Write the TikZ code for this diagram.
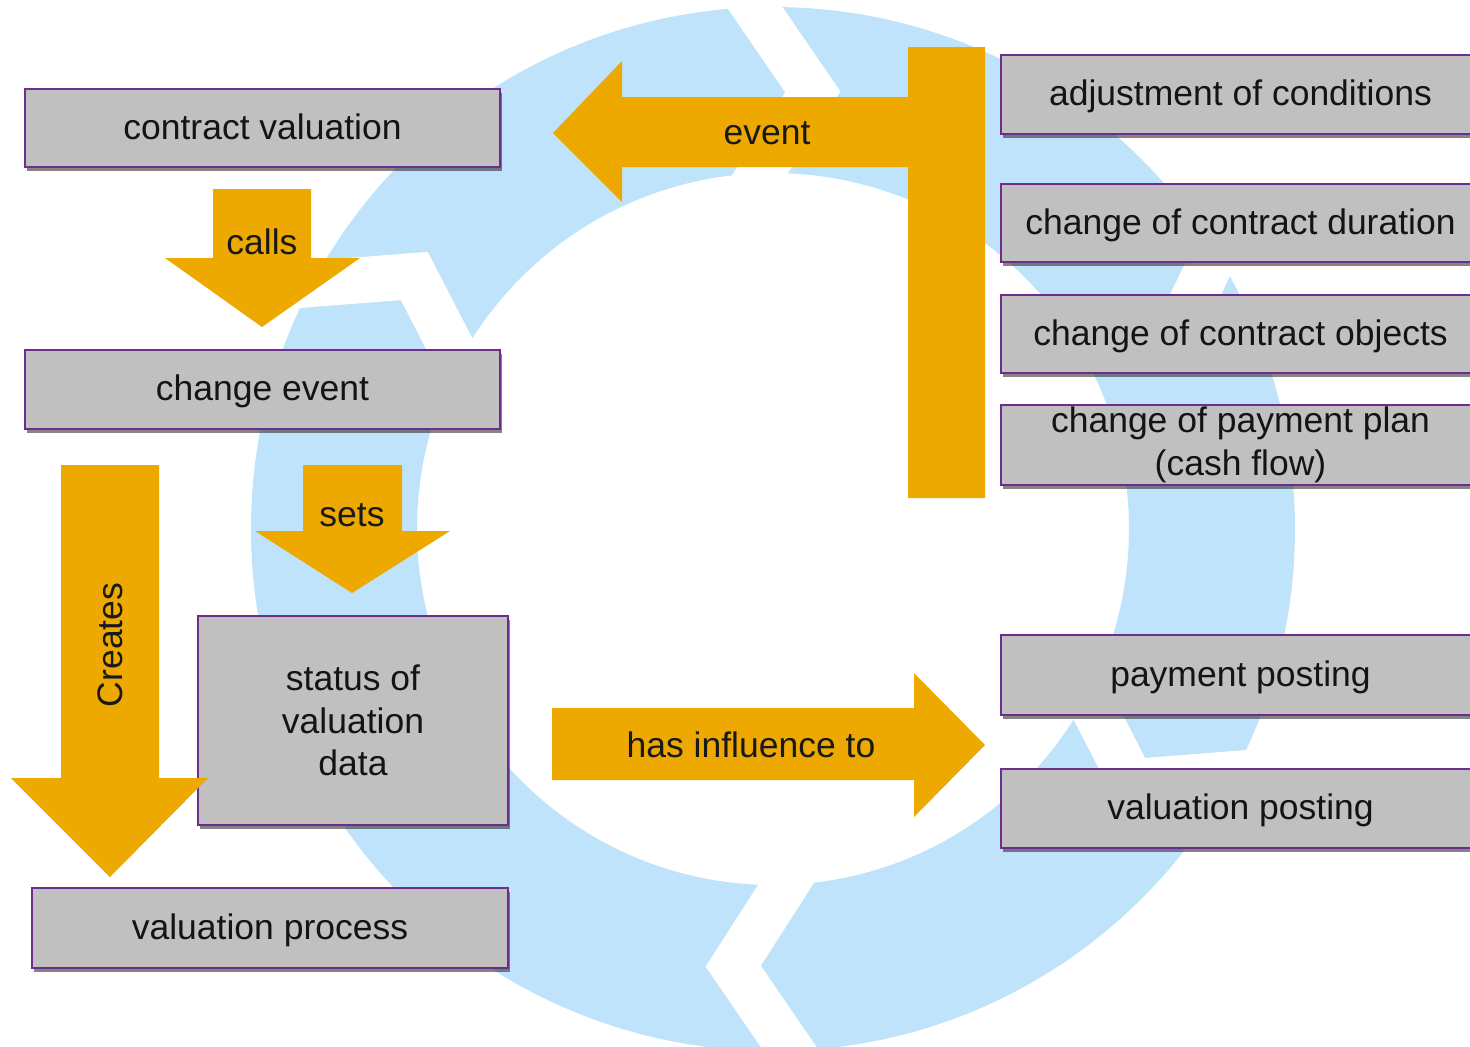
\documentclass[tikz,border=0pt]{standalone}
\usepackage{fontspec}
\setmainfont{Liberation Sans}
\usetikzlibrary{shadows,calc}
\definecolor{ringblue}{HTML}{BFE3FA}
\definecolor{boxgray}{HTML}{C0C0C0}
\definecolor{boxline}{HTML}{6E2C8E}
\definecolor{arrorange}{HTML}{EDA900}
\begin{document}
\begin{tikzpicture}[x=0.1mm,y=-0.1mm,
  box/.style={draw=boxline, line width=0.6pt, fill=boxgray, inner sep=0pt, outer sep=0pt,
    align=center, font=\fontsize{10.1}{12.1}\selectfont, text=black!92,
    drop shadow={shadow xshift=0.15mm, shadow yshift=-0.4mm, opacity=0.6, fill=black!80}},
  onebox/.style={box, text height=2.6mm, text depth=0.4mm},
  blockarrow/.style={fill=arrorange, draw=none},
  arrlabel/.style={font=\fontsize{10.1}{12.1}\selectfont, text=black!90, inner sep=0pt},
  ringcut/.style={draw=white, line width=4.6mm, line join=miter, miter limit=10}]
\useasboundingbox (0,0) rectangle (1470,1046);
\clip (0,0) rectangle (1470,1046);
\fill[white] (0,0) rectangle (1470,1046);
% background cycle ring
\fill[ringblue, even odd rule] (773,529) circle[radius=52.2mm] (773,529) circle[radius=35.6mm];
\foreach \a [count=\i] in {24.8,84.8,144.8,204.8,264.8,324.8} {
  \coordinate (T\i) at ({773+439*cos(\a)},{529-439*sin(\a)});
  \coordinate (O\i) at ({773+522*cos(\a+7.2)},{529-522*sin(\a+7.2)});
  \coordinate (I\i) at ({773+356*cos(\a+7.2)},{529-356*sin(\a+7.2)});
  \draw[ringcut] ($(T\i)!1.4!(O\i)$) -- (T\i) -- ($(T\i)!1.4!(I\i)$);
}
% boxes
\node[onebox, minimum width=47.5mm, minimum height=7.8mm] (cv) at (262.5,128) {contract valuation};
\node[onebox, minimum width=47.5mm, minimum height=7.9mm] (ce) at (262.5,389.5) {change event};
\node[box, minimum width=31mm, minimum height=20.9mm] (sv) at (353,720.5) {status of\\valuation\\data};
\node[onebox, minimum width=47.6mm, minimum height=8mm] (vp) at (270,928) {valuation process};
\node[onebox, minimum width=47.9mm, minimum height=7.9mm] (b1) at (1240.5,94.5) {adjustment of conditions};
\node[onebox, minimum width=47.9mm, minimum height=7.8mm] (b2) at (1240.5,223) {change of contract duration};
\node[onebox, minimum width=47.9mm, minimum height=7.8mm] (b3) at (1240.5,334) {change of contract objects};
\node[box, minimum width=47.9mm, minimum height=8mm] (b4) at (1240.5,445) {change of payment plan\\(cash flow)};
\node[onebox, minimum width=47.9mm, minimum height=8mm] (pp) at (1240.5,675) {payment posting};
\node[onebox, minimum width=47.9mm, minimum height=7.9mm] (vpo) at (1240.5,808.5) {valuation posting};
% block arrows
\fill[blockarrow] (213,189) -- (311,189) -- (311,258) -- (360,258) -- (262,327) -- (165,258) -- (213,258) -- cycle;
\node[arrlabel] (calls) at (262,242) {calls};
\fill[blockarrow] (303,465) -- (402,465) -- (402,531) -- (450,531) -- (352,593) -- (255,531) -- (303,531) -- cycle;
\node[arrlabel] (sets) at (352,515) {sets};
\fill[blockarrow] (61,465) -- (159,465) -- (159,778) -- (208,778) -- (110,877) -- (11,778) -- (61,778) -- cycle;
\node[arrlabel, rotate=90] (creates) at (110,645) {Creates};
\fill[blockarrow] (985,47) -- (985,498) -- (908,498) -- (908,167) -- (622,167) -- (622,202) -- (553,133) -- (622,61) -- (622,97) -- (908,97) -- (908,47) -- cycle;
\node[arrlabel] (event) at (767,133) {event};
\fill[blockarrow] (552,708) -- (914,708) -- (914,673) -- (985,745) -- (914,817) -- (914,780) -- (552,780) -- cycle;
\node[arrlabel] (infl) at (751,745) {has influence to};
\end{tikzpicture}
\end{document}
